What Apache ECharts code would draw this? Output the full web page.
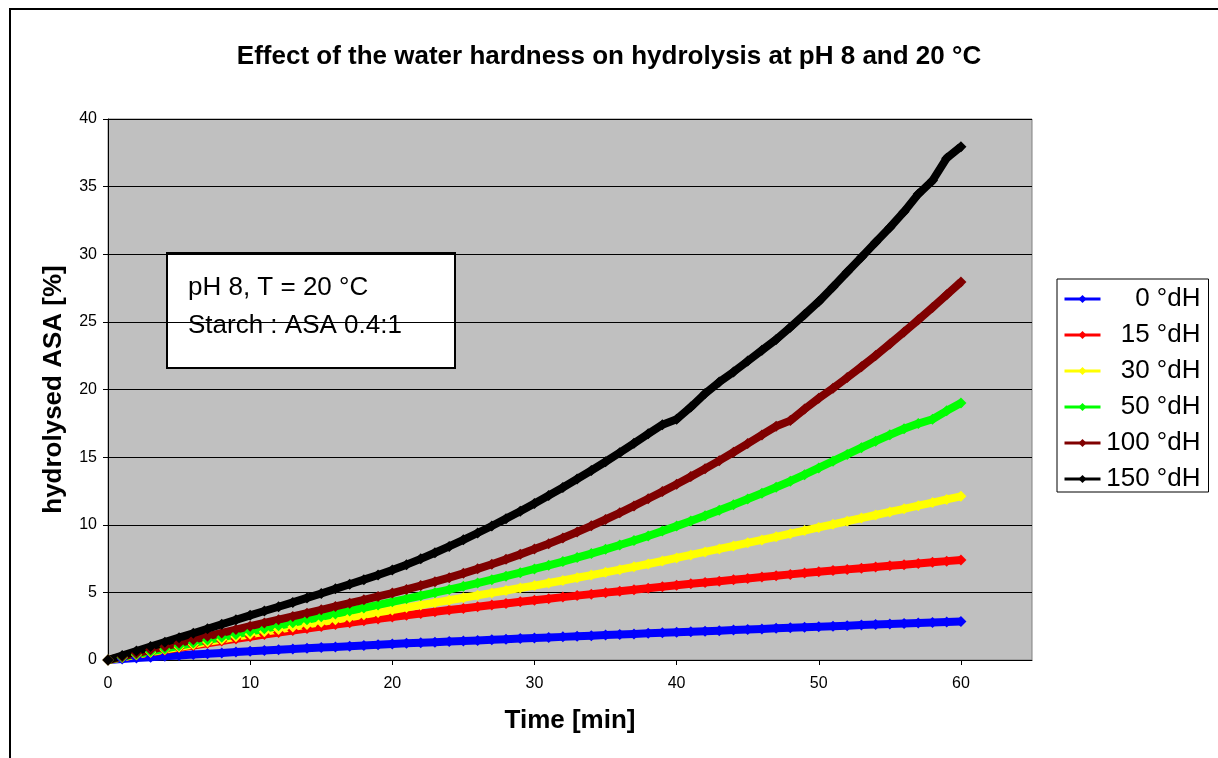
<!DOCTYPE html>
<html>
<head>
<meta charset="utf-8">
<script src="https://cdn.jsdelivr.net/npm/echarts@6/dist/echarts.min.js"></script>
<style>
    html, body { margin: 0; padding: 0; background: #fff; }
    #chart { width: 1218px; height: 758px; }
</style>
</head>
<body>
<div id="chart"></div>
<script>
// time axis (min)
var minutes = [0, 1, 2, 3, 4, 5, 6, 7, 8, 9, 10, 11, 12, 13, 14, 15, 16, 17, 18, 19, 20,
    21, 22, 23, 24, 25, 26, 27, 28, 29, 30, 31, 32, 33, 34, 35, 36, 37, 38, 39, 40,
    41, 42, 43, 44, 45, 46, 47, 48, 49, 50, 51, 52, 53, 54, 55, 56, 57, 58, 59, 60];
var xTicks = [0, 10, 20, 30, 40, 50, 60];
var seriesNames = ['0 °dH', '15 °dH', '30 °dH', '50 °dH', '100 °dH', '150 °dH'];
var seriesColors = ['#0000FF', '#FF0000', '#FFFF00', '#00FF00', '#800000', '#000000'];

// hydrolysed ASA [%]
var dH0 = [0, 0.07, 0.14, 0.21, 0.27, 0.34, 0.40, 0.46, 0.52, 0.59, 0.65,
    0.70, 0.76, 0.81, 0.86, 0.92, 0.97, 1.02, 1.08, 1.13, 1.18,
    1.23, 1.27, 1.32, 1.36, 1.41, 1.45, 1.50, 1.54, 1.59, 1.63,
    1.67, 1.71, 1.76, 1.80, 1.84, 1.88, 1.92, 1.97, 2.01, 2.05,
    2.09, 2.13, 2.17, 2.21, 2.25, 2.30, 2.34, 2.38, 2.42, 2.46,
    2.50, 2.54, 2.58, 2.62, 2.66, 2.69, 2.73, 2.77, 2.81, 2.85];
var dH15 = [0, 0.19, 0.37, 0.55, 0.73, 0.90, 1.07, 1.24, 1.40, 1.56, 1.72,
    1.88, 2.03, 2.18, 2.33, 2.48, 2.62, 2.76, 2.90, 3.04, 3.18,
    3.31, 3.44, 3.57, 3.69, 3.81, 3.94, 4.06, 4.18, 4.30, 4.42,
    4.53, 4.65, 4.76, 4.87, 4.98, 5.09, 5.20, 5.31, 5.42, 5.53,
    5.63, 5.73, 5.83, 5.93, 6.03, 6.13, 6.23, 6.33, 6.43, 6.52,
    6.61, 6.70, 6.79, 6.88, 6.97, 7.05, 7.14, 7.23, 7.31, 7.40];
var dH30 = [0, 0.20, 0.39, 0.58, 0.77, 0.96, 1.15, 1.34, 1.52, 1.71, 1.90,
    2.08, 2.26, 2.44, 2.62, 2.80, 2.98, 3.16, 3.34, 3.52, 3.70,
    3.88, 4.06, 4.24, 4.42, 4.60, 4.78, 4.96, 5.14, 5.32, 5.50,
    5.69, 5.88, 6.08, 6.28, 6.48, 6.68, 6.89, 7.10, 7.32, 7.55,
    7.77, 7.99, 8.21, 8.43, 8.66, 8.88, 9.11, 9.34, 9.57, 9.80,
    10.03, 10.26, 10.49, 10.72, 10.95, 11.18, 11.41, 11.64, 11.87, 12.10];
var dH50 = [0, 0.21, 0.42, 0.63, 0.84, 1.05, 1.26, 1.47, 1.68, 1.89, 2.10,
    2.31, 2.53, 2.75, 2.97, 3.19, 3.41, 3.63, 3.85, 4.07, 4.30,
    4.52, 4.75, 4.98, 5.21, 5.45, 5.69, 5.94, 6.20, 6.46, 6.73,
    7.00, 7.28, 7.57, 7.87, 8.18, 8.50, 8.83, 9.17, 9.53, 9.90,
    10.28, 10.67, 11.07, 11.48, 11.90, 12.33, 12.77, 13.22, 13.70, 14.20,
    14.70, 15.20, 15.70, 16.18, 16.65, 17.10, 17.48, 17.80, 18.42, 19.00];
var dH100 = [0, 0.25, 0.50, 0.75, 1.00, 1.25, 1.50, 1.75, 2.00, 2.25, 2.50,
    2.74, 2.98, 3.22, 3.46, 3.71, 3.96, 4.20, 4.45, 4.70, 4.95,
    5.22, 5.50, 5.79, 6.09, 6.41, 6.74, 7.08, 7.44, 7.81, 8.20,
    8.60, 9.02, 9.46, 9.92, 10.39, 10.88, 11.39, 11.92, 12.45, 13.00,
    13.56, 14.14, 14.74, 15.36, 16.00, 16.64, 17.28, 17.70, 18.55, 19.35,
    20.10, 20.88, 21.68, 22.51, 23.37, 24.25, 25.15, 26.07, 27.01, 27.95];
var dH150 = [0, 0.33, 0.66, 0.99, 1.32, 1.65, 1.98, 2.31, 2.64, 2.97, 3.30,
    3.62, 3.94, 4.26, 4.59, 4.92, 5.26, 5.60, 5.94, 6.29, 6.65,
    7.05, 7.48, 7.93, 8.40, 8.89, 9.39, 9.91, 10.45, 11.00, 11.58,
    12.16, 12.76, 13.38, 14.01, 14.66, 15.33, 16.02, 16.72, 17.40, 17.80,
    18.70, 19.70, 20.55, 21.30, 22.10, 22.90, 23.70, 24.60, 25.55, 26.50,
    27.58, 28.68, 29.78, 30.88, 31.98, 33.15, 34.45, 35.45, 37.10, 37.95];

var allValues = [dH0, dH15, dH30, dH50, dH100, dH150];

var chart = echarts.init(document.getElementById('chart'));

var series = seriesNames.map(function (name, i) {
    return {
        name: name,
        type: 'line',
        data: minutes.map(function (t, k) { return [t, allValues[i][k]]; }),
        symbol: 'diamond',
        symbolSize: 11,
        showSymbol: true,
        color: seriesColors[i],
        lineStyle: { width: 8, color: seriesColors[i], join: 'round' },
        itemStyle: { color: seriesColors[i] },
        emphasis: { disabled: true },
        animation: false
    };
});

chart.setOption({
    animation: false,
    textStyle: { fontFamily: 'Liberation Sans, Arial, sans-serif' },
    title: {
        text: 'Effect of the water hardness on hydrolysis at pH 8 and 20 °C',
        left: 'center',
        top: 39,
        textStyle: { fontSize: 26, fontWeight: 'bold', color: '#000' }
    },
    grid: {
        left: 108, right: 186, top: 119, bottom: 98,
        show: true,
        backgroundColor: '#C0C0C0',
        borderColor: '#808080',
        borderWidth: 1
    },
    legend: {
        orient: 'vertical',
        left: 1057,
        top: 279,
        padding: [7, 8, 0, 6],
        itemGap: 10,
        itemWidth: 36,
        itemHeight: 10,
        backgroundColor: '#fff',
        borderColor: '#000',
        borderWidth: 1,
        lineStyle: { width: 3 },
        formatter: function (name) { return '{r|' + name + '}'; },
        textStyle: {
            color: '#000',
            fontSize: 26,
            rich: { r: { width: 95, align: 'right', fontSize: 26 } }
        },
        data: seriesNames
    },
    xAxis: {
        type: 'value',
        min: 0,
        max: 65,
        interval: 10,
        name: 'Time [min]',
        nameLocation: 'middle',
        nameGap: 48,
        nameTextStyle: { fontSize: 26, fontWeight: 'bold', color: '#000' },
        axisLine: { show: true, lineStyle: { color: '#000', width: 1 } },
        axisTick: { show: true, length: 5, lineStyle: { color: '#000' }, customValues: xTicks },
        axisLabel: { fontSize: 16, color: '#000', margin: 16, customValues: xTicks },
        splitLine: { show: false }
    },
    yAxis: {
        type: 'value',
        min: 0,
        max: 40,
        interval: 5,
        name: 'hydrolysed ASA [%]',
        nameLocation: 'middle',
        nameGap: 41,
        nameTextStyle: { fontSize: 26, fontWeight: 'bold', color: '#000' },
        axisLine: { show: true, lineStyle: { color: '#000', width: 1 } },
        axisTick: { show: true, length: 5, lineStyle: { color: '#000' } },
        axisLabel: { fontSize: 16, color: '#000', margin: 11 },
        splitLine: { show: true, lineStyle: { color: '#000', width: 1 } }
    },
    graphic: [
        // outer frame of the chart object
        { type: 'line', shape: { x1: 10, y1: 9, x2: 1218, y2: 9 }, style: { stroke: '#000', lineWidth: 2 }, silent: true },
        { type: 'line', shape: { x1: 10, y1: 8, x2: 10, y2: 758 }, style: { stroke: '#000', lineWidth: 2 }, silent: true },
        // text box
        {
            type: 'group',
            left: 166,
            top: 252,
            z: 100,
            children: [
                { type: 'rect', shape: { x: 0, y: 0, width: 288, height: 115 }, style: { fill: '#fff', stroke: '#000', lineWidth: 2 } },
                { type: 'text', x: 21, y: 35, style: { text: 'pH 8, T = 20 °C', font: '26px "Liberation Sans", Arial, sans-serif', fill: '#000', textVerticalAlign: 'middle' } },
                { type: 'text', x: 21, y: 73, style: { text: 'Starch : ASA 0.4:1', font: '26px "Liberation Sans", Arial, sans-serif', fill: '#000', textVerticalAlign: 'middle' } }
            ]
        }
    ],
    series: series
});
</script>
</body>
</html>
